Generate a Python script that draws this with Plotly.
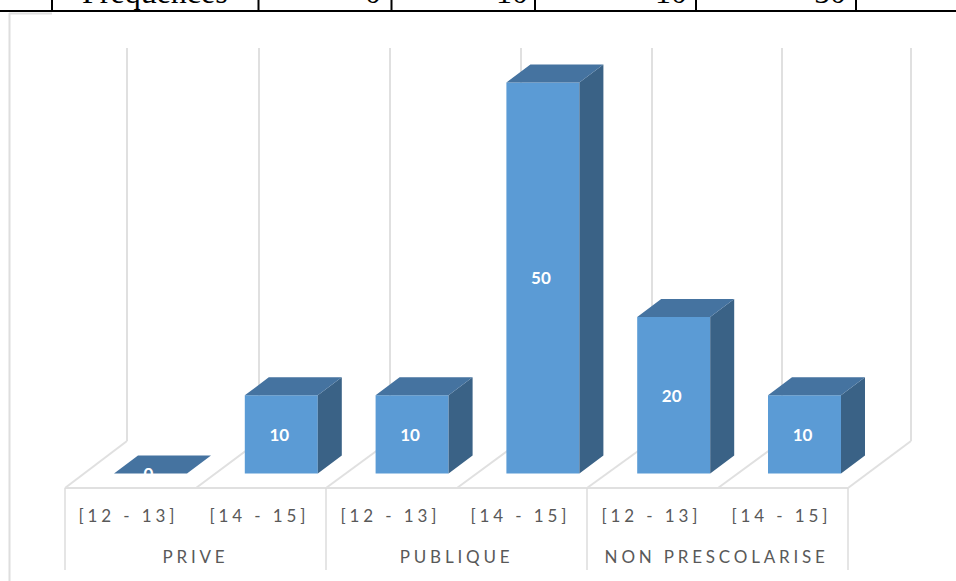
import plotly.graph_objects as go

# ---- data ----
ages = ["[12 - 13]", "[14 - 15]"] * 3
groups = ["PRIVE", "PUBLIQUE", "NON PRESCOLARISE"]
values = [0, 10, 10, 50, 20, 10]
table_header = "Fréquences"
table_values = ["0", "10", "10", "50"]

# ---- page frame: axes fill the page, 1 category = 130.8 px, 1 unit = 7.82 px ----
W, H = 956, 581
PX_X, PX_Y = 130.8, 7.82
X0, Y0 = 150.5, 473.5
def dx(px): return (px - X0) / PX_X
def dy(px): return (Y0 - px) / PX_Y

BAR_W = 73 / PX_X
DEPTH_X, DEPTH_Y = 24 / PX_X, 18 / PX_Y
FRONT, TOP, SIDE = "#5B9BD5", "#4573A0", "#3A6286"
GRID = "#E0E0E0"
TEXT = "#595959"

positions = list(range(len(values)))

fig = go.Figure()
fig.add_trace(go.Bar(x=positions, y=values, width=BAR_W, marker=dict(color=FRONT, line=dict(width=0))))

side_x, side_y, top_x, top_y = [], [], [], []
for p, v in zip(positions, values):
    l, r = p - BAR_W / 2, p + BAR_W / 2
    top_x += [l, r, r + DEPTH_X, l + DEPTH_X, l, None]
    top_y += [v, v, v + DEPTH_Y, v + DEPTH_Y, v, None]
    if v > 0:
        side_x += [r, r + DEPTH_X, r + DEPTH_X, r, r, None]
        side_y += [0, DEPTH_Y, v + DEPTH_Y, v, 0, None]
for xs, ys, c in ((side_x, side_y, SIDE), (top_x, top_y, TOP)):
    fig.add_trace(go.Scatter(x=xs, y=ys, mode="lines", fill="toself", fillcolor=c,
                             line=dict(width=0), hoverinfo="skip"))

LABEL_DX, LABEL_DY = -2 / PX_X, -2 / PX_Y
fig.add_trace(go.Scatter(x=[p + LABEL_DX for p in positions], y=[v / 2 + LABEL_DY for v in values],
                         mode="text", text=[str(v) for v in values], textposition="middle center",
                         textfont=dict(family="Lato", size=17, color="white", weight="bold")))

shapes = []
def line(x0, y0, x1, y1, color=GRID, width=2, layer="below"):
    shapes.append(dict(type="line", xref="x", yref="y", x0=dx(x0), y0=dy(y0), x1=dx(x1), y1=dy(y1),
                       line=dict(color=color, width=width), layer=layer))

# chart frame
line(9.5, 13, 9.5, 581, "#DEDEDE", 2)
line(9, 13.5, 52, 13.5, "#DEDEDE", 2)
# walls and floor
for fx, bx in zip([65, 196, 326, 457, 587, 718, 848], [127, 259, 390, 521, 652, 782, 911]):
    line(bx, 48, bx, 441)
    line(fx, 488, bx, 441)
line(65, 488, 848, 488)
for fx in [65, 326, 587, 848]:
    line(fx, 488, fx, 570, "#DCDCDC", 1.5)
# table above the chart
line(0 - 1, 11, 957, 11, "#000000", 2, "above")
for tx in [52, 258.5, 391.5, 535, 696, 856]:
    line(tx, -1, tx, 11, "#000000", 2, "above")

ann = []
for x, a in zip([128.5, 259.5, 390, 520, 651, 781], ages):
    ann.append(dict(x=dx(x), y=dy(515.5), text=a, xref="x", yref="y", showarrow=False,
                    font=dict(family="Lato", size=17, color=TEXT)))
for x, g in zip([195, 456, 716], groups):
    ann.append(dict(x=dx(x), y=dy(556.5), text=g, xref="x", yref="y", showarrow=False,
                    font=dict(family="Lato", size=17, color=TEXT)))
for x, t in zip([155, 373, 512, 671, 830], [table_header] + table_values):
    ann.append(dict(x=dx(x), y=1, text=t, xref="x", yref="paper", yanchor="bottom", yshift=-12,
                    showarrow=False, font=dict(family="Liberation Serif", size=32, color="#000000")))

fig.update_layout(
    width=W, height=H, margin=dict(l=0, r=0, t=0, b=0), showlegend=False,
    paper_bgcolor="white", plot_bgcolor="white", shapes=shapes, annotations=ann,
    xaxis=dict(range=[dx(0), dx(W)], visible=False, fixedrange=True),
    yaxis=dict(range=[dy(H), dy(0)], visible=False, fixedrange=True),
)
post = """
document.body.style.margin = '0';
document.querySelectorAll('.annotation-text').forEach(function (t) {
  if (t.textContent.indexOf('[') === 0) t.style.letterSpacing = '3.9px';
  else if (/^[A-Z ]+$/.test(t.textContent)) t.style.letterSpacing = '3.8px';
});
"""
fig.write_html("out.html", post_script=post, config=dict(displayModeBar=False))
